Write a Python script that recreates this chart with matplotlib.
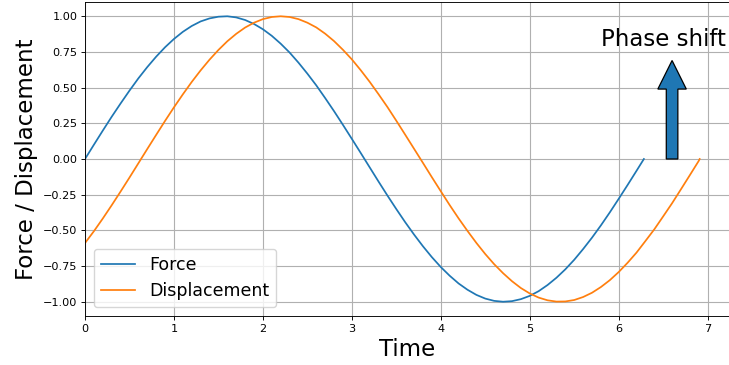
import matplotlib
matplotlib.use("Agg")
import matplotlib.pyplot as plt
from matplotlib.patches import FancyArrow

force_t = [0.0, 0.1, 0.2, 0.3, 0.4, 0.5, 0.6, 0.7, 0.8, 0.9, 1.0, 1.1, 1.2, 1.3, 1.4, 1.5,
           1.6, 1.7, 1.8, 1.9, 2.0, 2.1, 2.2, 2.3, 2.4, 2.5, 2.6, 2.7, 2.8, 2.9, 3.0, 3.1,
           3.2, 3.3, 3.4, 3.5, 3.6, 3.7, 3.8, 3.9, 4.0, 4.1, 4.2, 4.3, 4.4, 4.5, 4.6, 4.7,
           4.8, 4.9, 5.0, 5.1, 5.2, 5.3, 5.4, 5.5, 5.6, 5.7, 5.8, 5.9, 6.0, 6.1, 6.2, 6.283]
force_v = [0.000, 0.100, 0.199, 0.296, 0.389, 0.479, 0.565, 0.644, 0.717, 0.783, 0.841,
           0.891, 0.932, 0.964, 0.985, 0.997, 1.000, 0.992, 0.974, 0.946, 0.909, 0.863,
           0.808, 0.746, 0.675, 0.598, 0.516, 0.427, 0.335, 0.239, 0.141, 0.042, -0.058,
           -0.158, -0.256, -0.351, -0.443, -0.530, -0.612, -0.688, -0.757, -0.818, -0.872,
           -0.916, -0.952, -0.978, -0.994, -1.000, -0.996, -0.982, -0.959, -0.926, -0.883,
           -0.832, -0.773, -0.706, -0.631, -0.551, -0.465, -0.374, -0.279, -0.182, -0.083,
           0.000]

disp_t = [0.0, 0.1, 0.2, 0.3, 0.4, 0.5, 0.6, 0.7, 0.8, 0.9, 1.0, 1.1, 1.2, 1.3, 1.4, 1.5,
          1.6, 1.7, 1.8, 1.9, 2.0, 2.1, 2.2, 2.3, 2.4, 2.5, 2.6, 2.7, 2.8, 2.9, 3.0, 3.1,
          3.2, 3.3, 3.4, 3.5, 3.6, 3.7, 3.8, 3.9, 4.0, 4.1, 4.2, 4.3, 4.4, 4.5, 4.6, 4.7,
          4.8, 4.9, 5.0, 5.1, 5.2, 5.3, 5.4, 5.5, 5.6, 5.7, 5.8, 5.9, 6.0, 6.1, 6.2, 6.3,
          6.4, 6.5, 6.6, 6.7, 6.8, 6.9, 6.91]
disp_v = [-0.589, -0.506, -0.417, -0.324, -0.228, -0.130, -0.030, 0.070, 0.169, 0.267,
          0.362, 0.453, 0.540, 0.621, 0.696, 0.764, 0.825, 0.877, 0.921, 0.955, 0.980,
          0.995, 1.000, 0.995, 0.980, 0.955, 0.922, 0.878, 0.826, 0.765, 0.698, 0.622,
          0.541, 0.454, 0.364, 0.268, 0.170, 0.071, -0.028, -0.128, -0.226, -0.323, -0.416,
          -0.504, -0.588, -0.666, -0.737, -0.800, -0.856, -0.904, -0.942, -0.971, -0.990,
          -0.999, -0.998, -0.988, -0.967, -0.937, -0.897, -0.849, -0.792, -0.727, -0.656,
          -0.575, -0.493, -0.402, -0.310, -0.212, -0.113, -0.013, 0.000]

series_labels = ["Force", "Displacement"]
x_ticks = [0, 1, 2, 3, 4, 5, 6, 7]
y_ticks = [-1.0, -0.75, -0.5, -0.25, 0.0, 0.25, 0.5, 0.75, 1.0]

plt.rcParams["axes.linewidth"] = 0.65
plt.rcParams["xtick.major.width"] = 0.65
plt.rcParams["ytick.major.width"] = 0.65
plt.rcParams["xtick.major.size"] = 2.8
plt.rcParams["ytick.major.size"] = 2.8
plt.rcParams["xtick.major.pad"] = 2.8
plt.rcParams["ytick.major.pad"] = 2.8

fig = plt.figure(figsize=(7.29, 3.65), dpi=100)
ax = fig.add_axes([85 / 729, 49 / 365, 644 / 729, 314 / 365])

ax.plot(force_t, force_v, color="C0", lw=1.25, label=series_labels[0])
ax.plot(disp_t, disp_v, color="C1", lw=1.25, label=series_labels[1])

ax.add_patch(FancyArrow(6.6, 0.0, 0.0, 0.69, width=0.13, head_width=0.32,
                        head_length=0.2, length_includes_head=True,
                        facecolor="C0", edgecolor="black", lw=0.9, zorder=3))
ax.text(5.8, 0.79, "Phase shift", fontsize=16.5)

ax.set_xlim(0, 7.24)
ax.set_ylim(-1.1, 1.1)
ax.set_xticks(x_ticks)
ax.set_yticks(y_ticks)
ax.tick_params(labelsize=8.1)
ax.grid(True, lw=0.8)
ax.set_xlabel("Time", fontsize=16.5, labelpad=3.2)
ax.set_ylabel("Force / Displacement", fontsize=16.5, labelpad=3.2)
ax.legend(loc="lower left", fontsize=12.5)

fig.savefig("out.png", dpi=100)
